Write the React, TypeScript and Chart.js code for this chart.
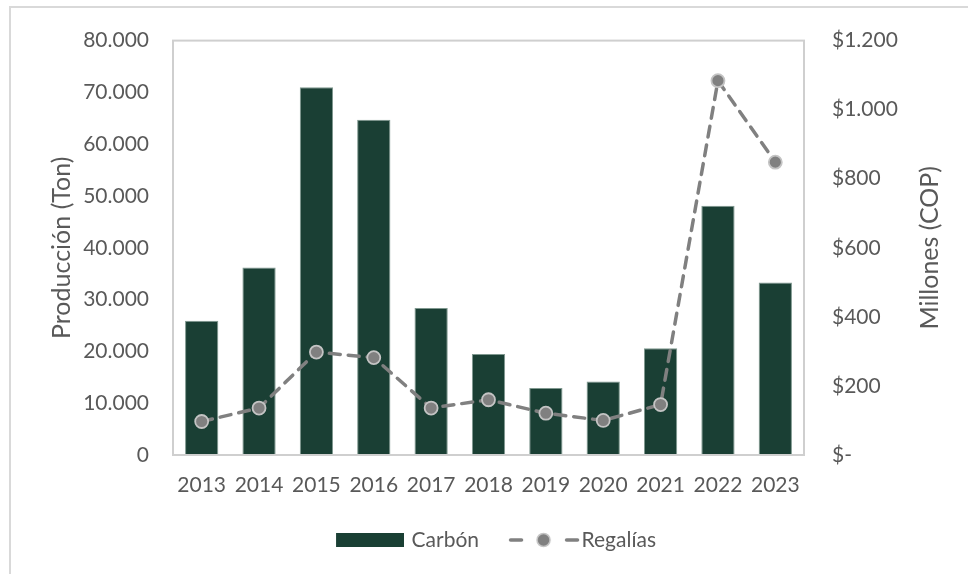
import React, { useEffect, useRef } from 'react';
import { Chart, registerables } from 'chart.js';

Chart.register(...registerables);

const years = ['2013', '2014', '2015', '2016', '2017', '2018', '2019', '2020', '2021', '2022', '2023'];
const carbonTon = [25900, 36200, 71000, 64700, 28400, 19500, 12950, 14200, 20600, 48100, 33300];
const regaliasMillones = [97, 136, 298, 282, 136, 160, 121, 100, 146, 1084, 848];

const leftAxisTitle = 'Producción (Ton)';
const rightAxisTitle = 'Millones (COP)';
const seriesNames = ['Carbón', 'Regalías'];

const FONT = 'Lato';
const TEXT = '#595959';
const BAR_COLOR = '#1A3F34';
const BAR_EDGE = '#7f988f';
const LINE_COLOR = '#808080';
const POINT_EDGE = '#c4c4c4';

function fmtThousands(n: number): string {
  return Math.round(n).toString().replace(/\B(?=(\d{3})+(?!\d))/g, '.');
}

function makeBarLegendIcon(): HTMLCanvasElement {
  const c = document.createElement('canvas');
  c.width = 76;
  c.height = 14;
  const ctx = c.getContext('2d')!;
  ctx.fillStyle = BAR_COLOR;
  ctx.fillRect(8, 0, 68, 14);
  return c;
}

function makeLineLegendIcon(): HTMLCanvasElement {
  const c = document.createElement('canvas');
  c.width = 88;
  c.height = 18;
  const ctx = c.getContext('2d')!;
  const x0 = 16.5;
  const cy = 9;
  ctx.strokeStyle = LINE_COLOR;
  ctx.lineWidth = 3.5;
  ctx.lineCap = 'round';
  ctx.beginPath();
  ctx.moveTo(x0 + 2, cy);
  ctx.lineTo(x0 + 13, cy);
  ctx.moveTo(x0 + 58, cy);
  ctx.lineTo(x0 + 69, cy);
  ctx.stroke();
  ctx.beginPath();
  ctx.arc(x0 + 35, cy, 6.5, 0, Math.PI * 2);
  ctx.fillStyle = LINE_COLOR;
  ctx.fill();
  ctx.lineWidth = 1.5;
  ctx.strokeStyle = POINT_EDGE;
  ctx.stroke();
  return c;
}

const framePlugin = {
  id: 'plotFrame',
  afterDatasetsDraw(chart: any) {
    const { ctx, chartArea } = chart;
    ctx.save();
    ctx.strokeStyle = '#cfcfcf';
    ctx.lineWidth = 2;
    ctx.strokeRect(chartArea.left, chartArea.top, chartArea.right - chartArea.left, chartArea.bottom - chartArea.top);
    ctx.restore();
  },
  afterDraw(chart: any) {
    const { ctx, chartArea } = chart;
    ctx.save();
    ctx.translate(930, (chartArea.top + chartArea.bottom) / 2);
    ctx.rotate(-Math.PI / 2);
    ctx.font = `25px ${FONT}`;
    ctx.fillStyle = TEXT;
    ctx.textAlign = 'center';
    ctx.textBaseline = 'middle';
    ctx.fillText(rightAxisTitle, 0, 0);
    ctx.restore();
  },
};

export default function App() {
  const ref = useRef<HTMLCanvasElement | null>(null);

  useEffect(() => {
    if (!ref.current) return;
    const barIcon = makeBarLegendIcon();
    const lineIcon = makeLineLegendIcon();
    const tickFont = { family: FONT, size: 21 };

    const chart = new Chart(ref.current, {
      type: 'bar',
      data: {
        labels: years,
        datasets: [
          {
            type: 'bar',
            label: seriesNames[0],
            data: carbonTon,
            backgroundColor: BAR_COLOR,
            borderColor: BAR_EDGE,
            borderWidth: 1,
            barPercentage: 0.58,
            categoryPercentage: 1,
            yAxisID: 'y',
            order: 1,
          } as any,
          {
            type: 'line',
            label: seriesNames[1],
            data: regaliasMillones,
            borderColor: LINE_COLOR,
            borderWidth: 3.5,
            borderDash: [11, 8],
            borderCapStyle: 'round',
            pointRadius: 6.5,
            pointBackgroundColor: LINE_COLOR,
            pointBorderColor: POINT_EDGE,
            pointBorderWidth: 1.8,
            tension: 0,
            yAxisID: 'y1',
            order: 0,
          } as any,
        ],
      },
      options: {
        responsive: false,
        animation: false,
        devicePixelRatio: 1,
        layout: { padding: { left: 19, right: 0, top: 35, bottom: 13.5 } },
        plugins: {
          tooltip: { enabled: false },
          legend: {
            position: 'bottom',
            labels: {
              usePointStyle: true,
              pointStyleWidth: 70,
              padding: 22,
              font: tickFont,
              color: TEXT,
              sort: (a: any, b: any) => a.datasetIndex - b.datasetIndex,
              generateLabels: (c: any) => {
                const items = (Chart.defaults.plugins.legend.labels as any).generateLabels(c);
                items.forEach((it: any) => {
                  it.pointStyle = it.datasetIndex === 0 ? barIcon : lineIcon;
                });
                return items;
              },
            },
          },
        },
        scales: {
          x: {
            grid: { display: false, drawTicks: false },
            border: { display: false },
            ticks: { font: tickFont, color: TEXT, padding: 18, maxRotation: 0, autoSkip: false },
            afterFit: (s: any) => {
              s.height = 52.5;
            },
          },
          y: {
            position: 'left',
            min: 0,
            max: 80000,
            grid: { display: false, drawTicks: false },
            border: { display: false },
            ticks: {
              stepSize: 10000,
              padding: 24,
              font: tickFont,
              color: TEXT,
              callback: (v: any) => fmtThousands(Number(v)),
            },
            title: {
              display: true,
              text: leftAxisTitle,
              color: TEXT,
              font: { family: FONT, size: 25 },
              padding: { top: 28, bottom: 0 },
            },
            afterFit: (s: any) => {
              s.width = 154;
            },
          },
          y1: {
            position: 'right',
            min: 0,
            max: 1200,
            grid: { display: false, drawTicks: false },
            border: { display: false },
            ticks: {
              stepSize: 200,
              padding: 28,
              font: tickFont,
              color: TEXT,
              callback: (v: any) => (Number(v) === 0 ? '$-' : '$' + fmtThousands(Number(v))),
            },
            afterFit: (s: any) => {
              s.width = 164;
            },
          },
        },
      } as any,
      plugins: [framePlugin],
    });
    return () => chart.destroy();
  }, []);

  return (
    <div style={{ position: 'fixed', left: 0, top: 0, width: 968, height: 574, overflow: 'hidden', background: '#fff' }}>
      <div
        style={{
          position: 'absolute',
          left: 9,
          top: 6,
          width: 2000,
          height: 2000,
          borderLeft: '2px solid #d9d9d9',
          borderTop: '2px solid #d9d9d9',
        }}
      />
      <canvas ref={ref} width={968} height={574} style={{ position: 'absolute', left: 0, top: 0, width: 968, height: 574 }} />
    </div>
  );
}
